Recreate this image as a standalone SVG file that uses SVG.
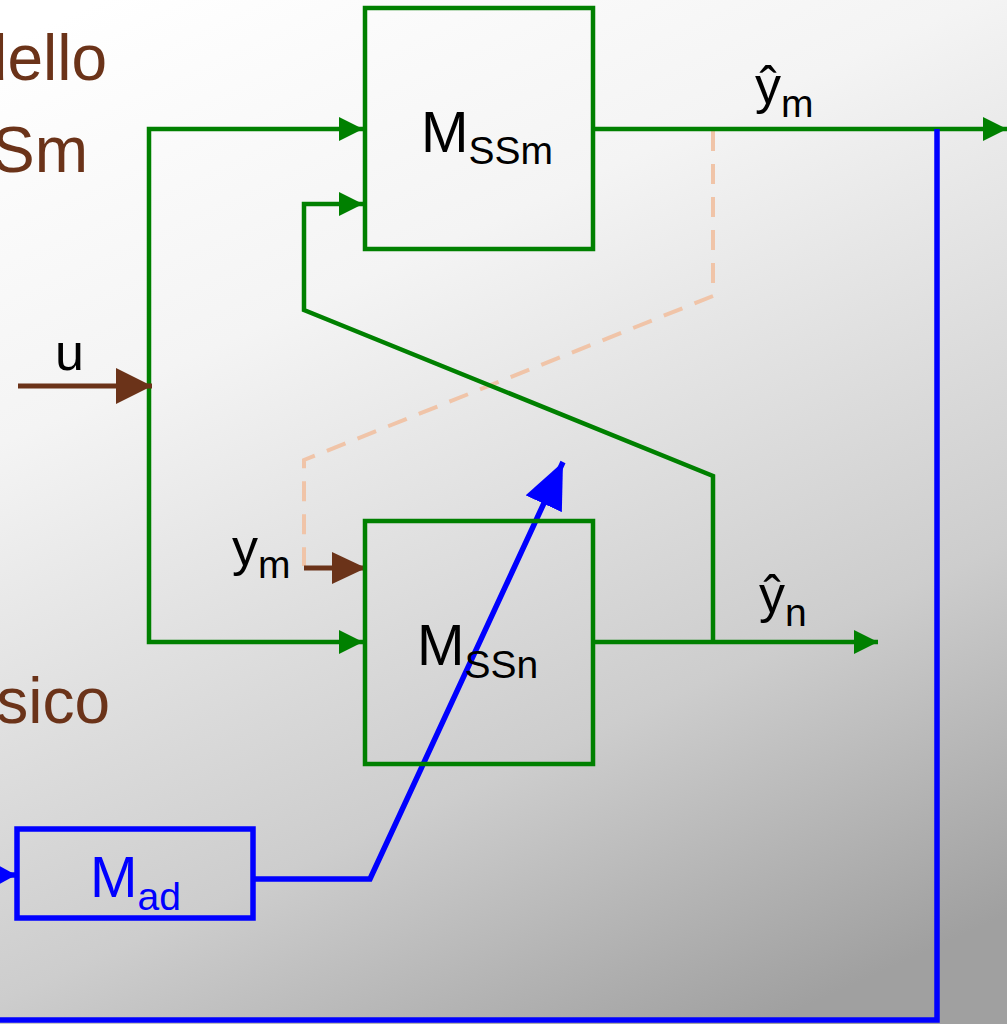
<svg xmlns="http://www.w3.org/2000/svg" width="1007" height="1024" viewBox="0 0 1007 1024">
<defs>
<linearGradient id="bg" gradientUnits="userSpaceOnUse" x1="100" y1="0" x2="600" y2="1100">
<stop offset="0" stop-color="#ffffff"/>
<stop offset="0.3" stop-color="#f4f4f4"/>
<stop offset="0.45" stop-color="#e6e6e6"/>
<stop offset="0.72" stop-color="#cdcdcd"/>
<stop offset="1" stop-color="#a0a0a0"/>
</linearGradient>
<marker id="ag" markerUnits="userSpaceOnUse" markerWidth="24" markerHeight="24" refX="24" refY="12" orient="auto"><path d="M0,0 L24,12 L0,24 z" fill="#008000"/></marker>
<marker id="ab" markerUnits="userSpaceOnUse" markerWidth="36" markerHeight="36" refX="36" refY="18" orient="auto"><path d="M0,0 L36,18 L0,36 z" fill="#6b3319"/></marker>
<marker id="ab2" markerUnits="userSpaceOnUse" markerWidth="34" markerHeight="32" refX="34" refY="16" orient="auto"><path d="M0,0 L34,16 L0,32 z" fill="#6b3319"/></marker>
<marker id="abl" markerUnits="userSpaceOnUse" markerWidth="46" markerHeight="40" refX="46" refY="20" orient="auto"><path d="M0,0 L46,20 L0,40 z" fill="#0000ff"/></marker>
<marker id="abl2" markerUnits="userSpaceOnUse" markerWidth="24" markerHeight="26" refX="24" refY="13" orient="auto"><path d="M0,0 L24,13 L0,26 z" fill="#0000ff"/></marker>
</defs>
<style>
.g{fill:none;stroke:#008000;stroke-width:4.5}
.br{fill:none;stroke:#6b3319;stroke-width:5}
.bl{fill:none;stroke:#0000ff;stroke-width:5.5}
.dash{fill:none;stroke:#f0c4a8;stroke-width:4;stroke-dasharray:20,13}
.t{font-family:"Liberation Sans",Arial,sans-serif}
.brown{fill:#6b3319;font-size:64px}
.lbl{fill:#000000;font-size:52px}
</style>
<rect x="0" y="0" width="1007" height="1024" fill="url(#bg)"/>

<g id="side-texts" class="t brown">
<text x="107" y="80" text-anchor="end">dello</text>
<text x="88" y="172" text-anchor="end">Sm</text>
<text x="110" y="723" text-anchor="end">sico</text>
</g>

<g id="connectors">
<path class="dash" d="M713,131 L713,296 L304,460 L304,566"/>
<path class="g" d="M149,386 L149,129 L363,129" marker-end="url(#ag)"/>
<path class="g" d="M149,386 L149,642 L363,642" marker-end="url(#ag)"/>
<path class="g" d="M713,642 L713,476 L304,310 L304,204 L363,204" marker-end="url(#ag)"/>
<path class="g" d="M593,129 L1007,129" marker-end="url(#ag)"/>
<path class="g" d="M593,642 L878,642" marker-end="url(#ag)"/>
<path class="br" d="M18,386 L152,386" marker-end="url(#ab)"/>
<path class="br" d="M304,568 L366,568" marker-end="url(#ab2)"/>
<path class="bl" d="M253,879 L370,879 L563,462" marker-end="url(#abl)"/>
<path class="bl" d="M937,129 L937,1020 L0,1020"/>
<path class="bl" d="M-20,875 L16,875" marker-end="url(#abl2)"/>
</g>

<g id="MSSm">
<rect class="g" x="365" y="8" width="228" height="241"/>
<text class="t" x="421" y="152" font-size="57" fill="#000">M<tspan font-size="39" dy="12">SSm</tspan></text>
</g>

<g id="MSSn">
<rect class="g" x="365" y="521" width="228" height="243"/>
<text class="t" x="417" y="665" font-size="57" fill="#000">M<tspan font-size="39" dy="13">SSn</tspan></text>
</g>

<g id="Mad">
<rect class="bl" x="17" y="829" width="236" height="89"/>
<text class="t" x="90" y="897" font-size="57" fill="#0000ff">M<tspan font-size="39" dy="13">ad</tspan></text>
</g>

<g id="labels" class="t">
<text class="lbl" x="55" y="370">u</text>
<text class="lbl" x="232" y="565">y<tspan font-size="39" dy="13">m</tspan></text>
<text class="lbl" x="755" y="103">ŷ<tspan font-size="39" dy="14">m</tspan></text>
<text class="lbl" x="759" y="612">ŷ<tspan font-size="39" dy="14">n</tspan></text>
</g>
</svg>
